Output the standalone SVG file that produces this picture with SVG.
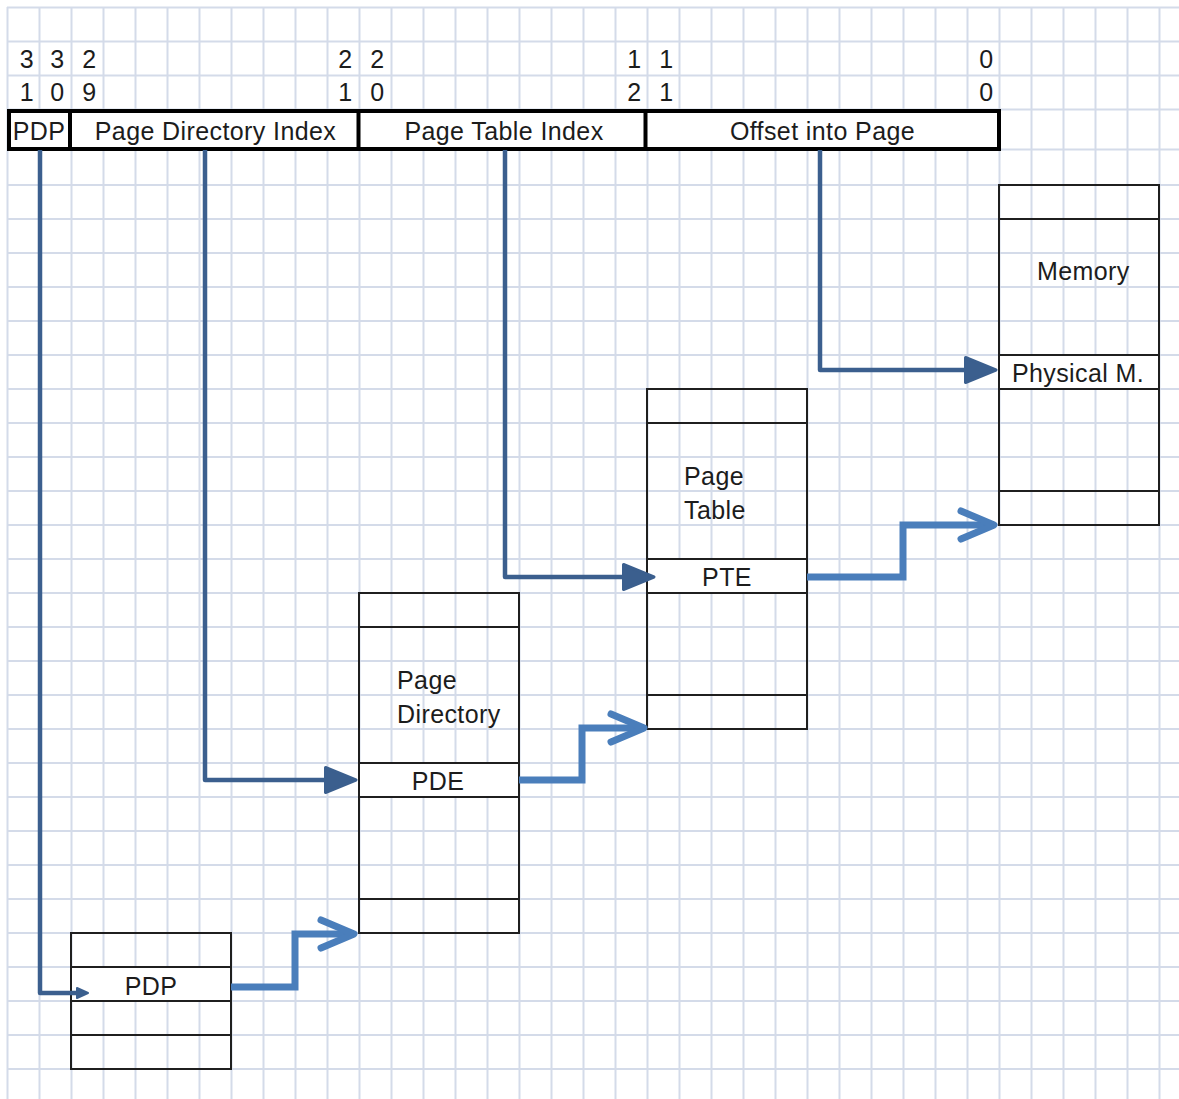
<svg xmlns="http://www.w3.org/2000/svg" width="1179" height="1099" viewBox="0 0 1179 1099">
  <style>
    text { font-family: "Liberation Sans", Arial, sans-serif; font-size: 25px; fill: #1c1c1c; letter-spacing: 0.4px; }
    .mid { text-anchor: middle; }
    .grid { stroke: #d4dbe9; stroke-width: 2; fill: none; }
    .box { fill: none; stroke: #1f1f1f; stroke-width: 2; }
    .cell { fill: #ffffff; stroke: #1f1f1f; stroke-width: 2; }
    .hdr { fill: #ffffff; stroke: #000000; stroke-width: 4; }
    .dark { fill: none; stroke: #3b5f8e; stroke-width: 4.5; stroke-linejoin: round; }
    .light { fill: none; stroke: #4a7ebb; stroke-width: 7; stroke-linejoin: miter; }
  </style>
  <defs>
    <marker id="tri" markerUnits="userSpaceOnUse" markerWidth="36" markerHeight="32" refX="25" refY="14" orient="auto" overflow="visible">
      <path d="M1.5,1.5 L32,14 L1.5,26.5 Z" fill="#3b5f8e" stroke="#3b5f8e" stroke-width="3" stroke-linejoin="round"/>
    </marker>
    <marker id="tri-small" markerUnits="userSpaceOnUse" markerWidth="16" markerHeight="14" refX="4" refY="6" orient="auto" overflow="visible">
      <path d="M1,1 L12,6 L1,11 Z" fill="#3b5f8e" stroke="#3b5f8e" stroke-width="2" stroke-linejoin="round"/>
    </marker>
    <marker id="chev" markerUnits="userSpaceOnUse" markerWidth="40" markerHeight="34" refX="30" refY="0" orient="auto" overflow="visible">
      <path d="M0,-14 L33,0 L0,14" fill="none" stroke="#4a7ebb" stroke-width="7" stroke-linecap="round" stroke-linejoin="round"/>
    </marker>
  </defs>

  <rect x="0" y="0" width="1179" height="1099" fill="#ffffff"/>

  <g id="grid">
    <path class="grid" d="M7.5 7V1099M39.5 7V1099M71.5 7V1099M103.5 7V1099M135.5 7V1099M167.5 7V1099M199.5 7V1099M231.5 7V1099M263.5 7V1099M295.5 7V1099M327.5 7V1099M359.5 7V1099M391.5 7V1099M423.5 7V1099M455.5 7V1099M487.5 7V1099M519.5 7V1099M551.5 7V1099M583.5 7V1099M615.5 7V1099M647.5 7V1099M679.5 7V1099M711.5 7V1099M743.5 7V1099M775.5 7V1099M807.5 7V1099M839.5 7V1099M871.5 7V1099M903.5 7V1099M935.5 7V1099M967.5 7V1099M999.5 7V1099M1031.5 7V1099M1063.5 7V1099M1095.5 7V1099M1127.5 7V1099M1159.5 7V1099"/>
    <path class="grid" d="M7 7.5H1179M7 41.5H1179M7 75.5H1179M7 109.5H1179M7 149.5H1179M7 185H1179M7 219H1179M7 253H1179M7 287H1179M7 321H1179M7 355H1179M7 389H1179M7 423H1179M7 457H1179M7 491H1179M7 525H1179M7 559H1179M7 593H1179M7 627H1179M7 661H1179M7 695H1179M7 729H1179M7 763H1179M7 797H1179M7 831H1179M7 865H1179M7 899H1179M7 933H1179M7 967H1179M7 1001H1179M7 1035H1179M7 1069H1179"/>
  </g>

  <g id="bit-numbers">
    <text class="mid" x="27" y="68">3</text>
    <text class="mid" x="57.5" y="68">3</text>
    <text class="mid" x="89.5" y="68">2</text>
    <text class="mid" x="345.5" y="68">2</text>
    <text class="mid" x="377.5" y="68">2</text>
    <text class="mid" x="634.5" y="68">1</text>
    <text class="mid" x="666.5" y="68">1</text>
    <text class="mid" x="986.5" y="68">0</text>
    <text class="mid" x="27" y="101">1</text>
    <text class="mid" x="57.5" y="101">0</text>
    <text class="mid" x="89.5" y="101">9</text>
    <text class="mid" x="345.5" y="101">1</text>
    <text class="mid" x="377.5" y="101">0</text>
    <text class="mid" x="634.5" y="101">2</text>
    <text class="mid" x="666.5" y="101">1</text>
    <text class="mid" x="986.5" y="101">0</text>
  </g>

  <g id="address">
    <rect class="hdr" x="9" y="111" width="990" height="38"/>
    <path d="M70 111V149M358.5 111V149M645.5 111V149" stroke="#000000" stroke-width="4" fill="none"/>
    <text class="mid" x="39" y="140">PDP</text>
    <text class="mid" x="215.5" y="140">Page Directory Index</text>
    <text class="mid" x="504" y="140">Page Table Index</text>
    <text class="mid" x="822.5" y="140">Offset into Page</text>
  </g>

  <g id="memory">
    <rect class="box" x="999" y="185" width="160" height="340"/>
    <rect class="cell" x="999" y="355" width="160" height="34"/>
    <path class="box" d="M999 219H1159M999 491H1159"/>
    <text x="1037" y="280">Memory</text>
    <text class="mid" x="1078" y="382">Physical M.</text>
  </g>

  <g id="page-table">
    <rect class="box" x="647" y="389" width="160" height="340"/>
    <rect class="cell" x="647" y="559" width="160" height="34"/>
    <path class="box" d="M647 423H807M647 695H807"/>
    <text x="684" y="485">Page</text>
    <text x="684" y="519">Table</text>
    <text class="mid" x="727" y="586">PTE</text>
  </g>

  <g id="page-directory">
    <rect class="box" x="359" y="593" width="160" height="340"/>
    <rect class="cell" x="359" y="763" width="160" height="34"/>
    <path class="box" d="M359 627H519M359 899H519"/>
    <text x="397" y="689">Page</text>
    <text x="397" y="723">Directory</text>
    <text class="mid" x="438" y="790">PDE</text>
  </g>

  <g id="pdp-table">
    <rect class="box" x="71" y="933" width="160" height="136"/>
    <rect class="cell" x="71" y="967" width="160" height="34"/>
    <path class="box" d="M71 1035H231"/>
    <text class="mid" x="151" y="995">PDP</text>
  </g>

  <g id="connectors">
    <path class="dark" d="M40 150V993H80" marker-end="url(#tri-small)"/>
    <path class="dark" d="M205 150V780H349" marker-end="url(#tri)"/>
    <path class="dark" d="M505 150V577H647" marker-end="url(#tri)"/>
    <path class="dark" d="M820 150V370H989" marker-end="url(#tri)"/>
    <path class="light" d="M231 987H295V934H351" marker-end="url(#chev)"/>
    <path class="light" d="M519 780H582V728H641" marker-end="url(#chev)"/>
    <path class="light" d="M807 577H903V525H991" marker-end="url(#chev)"/>
  </g>
</svg>
